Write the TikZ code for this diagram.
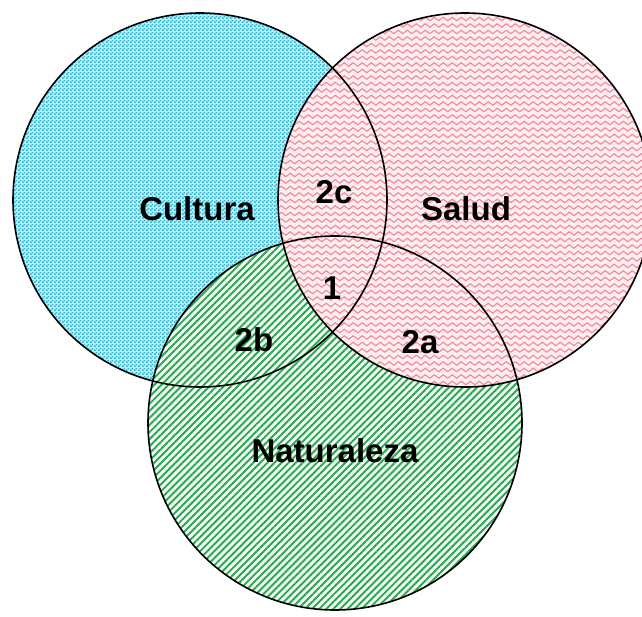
\documentclass[tikz,border=0pt]{standalone}
\usepackage{fontspec}
\setmainfont{Liberation Sans}
\usetikzlibrary{patterns.meta}
\definecolor{culcyan}{HTML}{20B4CE}
\definecolor{culbg}{HTML}{C8ECF3}
\definecolor{salpink}{HTML}{F08898}
\definecolor{salbg}{HTML}{FCEEF0}
\definecolor{natgreen}{HTML}{28A852}
\definecolor{natbg}{HTML}{F2FAF3}
\tikzdeclarepattern{
  name=vennchecker,
  type=uncolored,
  bounding box={(0pt,0pt) and (3.6pt,3.6pt)},
  tile size={(3.6pt,3.6pt)},
  code={\fill (0pt,0pt) rectangle (1.75pt,1.75pt); \fill (1.8pt,1.8pt) rectangle (3.55pt,3.55pt);}
}
\tikzdeclarepattern{
  name=vennwave,
  type=uncolored,
  bounding box={(0pt,-3.5pt) and (9pt,3.5pt)},
  tile size={(9pt,6.5pt)},
  code={\draw[line width=1.1pt] (0pt,0pt) sin (2.25pt,1.7pt) cos (4.5pt,0pt) sin (6.75pt,-1.7pt) cos (9pt,0pt);}
}
\tikzset{
  ring/.style={draw=black, line width=1.6pt},
  lbl/.style={font=\bfseries\fontsize{33}{38}\selectfont, inner sep=0pt, text=black},
  culfill/.style={fill=culbg, postaction={pattern=vennchecker, pattern color=culcyan}},
  salfill/.style={fill=salbg, postaction={pattern=vennwave, pattern color=salpink}},
  natfill/.style={fill=natbg, postaction={pattern={Lines[angle=45,distance=5pt,line width=1.9pt]}, pattern color=natgreen}},
}
\begin{document}
\begin{tikzpicture}[x=1pt,y=-1pt]
\useasboundingbox (0,0) rectangle (642,617);
\fill[white] (0,0) rectangle (642,617);
\clip (0,0) rectangle (642,617);
\coordinate (cC) at (200,200);
\coordinate (cS) at (465,200);
\coordinate (cN) at (335,423);
% fills: Cultura, then Naturaleza, then Salud on top
\path[culfill] (cC) circle[radius=187pt];
\path[natfill] (cN) circle[radius=187pt];
\path[salfill] (cS) circle[radius=187pt];
% outlines
\draw[ring] (cC) circle[radius=187pt];
\draw[ring] (cS) circle[radius=187pt];
\draw[ring] (cN) circle[radius=187pt];
% labels
\node[lbl] (tcul) at (197,209) {Cultura};
\node[lbl] (tsal) at (466,209) {Salud};
\node[lbl] (tnat) at (335,451) {Naturaleza};
\node[lbl] (t2c) at (334,192) {2c};
\node[lbl] (t1) at (332,288) {1};
\node[lbl] (t2b) at (254,340) {2b};
\node[lbl] (t2a) at (420,342) {2a};
\end{tikzpicture}
\end{document}
